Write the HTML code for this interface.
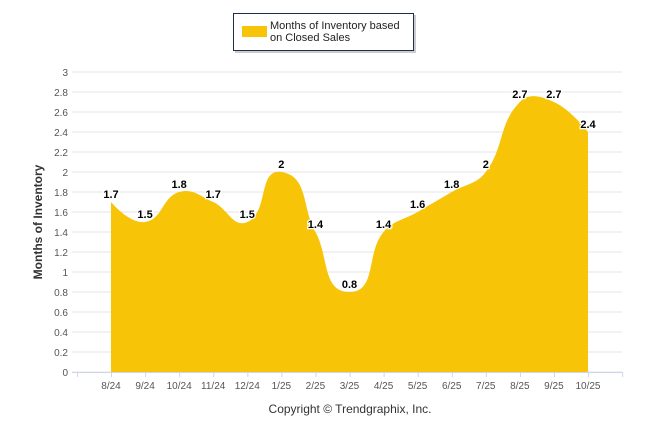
<!DOCTYPE html>
<html><head><meta charset="utf-8"><style>
body{margin:0;background:#fff;}
svg{display:block;font-family:"Liberation Sans",sans-serif;}
</style></head><body>
<svg id="c" width="646" height="434"></svg>
<script>
const categories=["8/24","9/24","10/24","11/24","12/24","1/25","2/25","3/25","4/25","5/25","6/25","7/25","8/25","9/25","10/25"];
const values=[1.7,1.5,1.8,1.7,1.5,2,1.4,0.8,1.4,1.6,1.8,2,2.7,2.7,2.4];
const yTicks=[0,0.2,0.4,0.6,0.8,1,1.2,1.4,1.6,1.8,2,2.2,2.4,2.6,2.8,3];
const svg=document.getElementById('c');
const NS='http://www.w3.org/2000/svg';
const X0=111,DX=34.07,Y0=372,YS=100;
function xs(i){return X0+i*DX;}
function ys(v){return Y0-v*YS;}
function mk(t,a,txt){const e=document.createElementNS(NS,t);for(const k in a)e.setAttribute(k,a[k]);if(txt!=null)e.textContent=txt;svg.appendChild(e);return e;}
// gridlines and y labels
yTicks.forEach(v=>{
 const g=mk('line',{x1:72,x2:622,y1:ys(v),y2:ys(v),stroke:'#e6e6e6','stroke-width':1});
 
 
 const t=mk('text',{x:68,y:ys(v)+4,'text-anchor':'end','font-size':10,fill:'#555'},String(v));
 
 
});
// area path (spline, Highcharts-like smoothing)
const pts=values.map((v,i)=>[xs(i),ys(v)]);
let d='M'+pts[0][0]+','+pts[0][1];
const sm=1.5,den=sm+1;
function ctrl(i){
 const p=pts[i],a=pts[i-1],b=pts[i+1];
 if(!a||!b)return [p,p];
 let lx=(sm*p[0]+a[0])/den,ly=(sm*p[1]+a[1])/den,rx=(sm*p[0]+b[0])/den,ry=(sm*p[1]+b[1])/den;
 const la=Math.atan2(ly-p[1],lx-p[0]),ra=Math.atan2(ry-p[1],rx-p[0]);
 const lenL=Math.hypot(lx-p[0],ly-p[1]),lenR=Math.hypot(rx-p[0],ry-p[1]);
 const corr=(la+ra)/2+ (Math.abs(la-ra)>Math.PI/2?0:Math.PI)*0;
 let ang=(la-ra>0?1:-1)*Math.PI/2+ (la+ra)/2;
 // simpler: tangent along a->b
 const tx=b[0]-a[0],ty=b[1]-a[1],tl=Math.hypot(tx,ty);
 let L=[p[0]-tx/tl*lenL,p[1]-ty/tl*lenL],R=[p[0]+tx/tl*lenR,p[1]+ty/tl*lenR];
 return [L,R];
}
for(let i=1;i<pts.length;i++){
 const c1=ctrl(i-1)[1],c2=ctrl(i)[0];
 d+=' C'+c1[0]+','+c1[1]+' '+c2[0]+','+c2[1]+' '+pts[i][0]+','+pts[i][1];
}
d+=' L'+pts[pts.length-1][0]+','+Y0+' L'+pts[0][0]+','+Y0+' Z';
const area=mk('path',{d:d,fill:'#F7C408'});


// x axis
const ax=mk('line',{x1:72,x2:622,y1:372.5,y2:372.5,stroke:'#ccd6eb','stroke-width':1});


for(let k=0;k<=16;k++){
 const tk=mk('line',{x1:77.5+k*DX,x2:77.5+k*DX,y1:372,y2:377,stroke:'#ccd6eb'});
 
 
}
categories.forEach((c,i)=>{
 const t=mk('text',{x:xs(i),y:389,'text-anchor':'middle','font-size':10,fill:'#555'},c);
 
 
 const l=mk('text',{x:xs(i),y:ys(values[i])-4,'text-anchor':'middle','font-size':11,'font-weight':'bold',fill:'#000',stroke:'#fff','stroke-width':2.5,'paint-order':'stroke'},String(values[i]));
 
 
});
const yt=mk('text',{x:0,y:0,transform:'translate(42,222) rotate(-90)','text-anchor':'middle','font-size':12,'font-weight':'bold',fill:'#333'},'Months of Inventory');


const cp=mk('text',{x:350,y:413,'text-anchor':'middle','font-size':12,fill:'#333'},'Copyright © Trendgraphix, Inc.');


// legend
const sh=mk('rect',{x:235,y:15,width:181,height:38,fill:'#999',opacity:0.5});


const lb=mk('rect',{x:233.5,y:13.5,width:180,height:37,fill:'#fff',stroke:'#1f2d4d','stroke-width':1});


const sw=mk('rect',{x:242,y:26,width:25,height:11,fill:'#F7C408'});


const l1=mk('text',{x:270,y:29,'font-size':11,fill:'#222'},'Months of Inventory based');


const l2=mk('text',{x:270,y:41,'font-size':11,fill:'#222'},'on Closed Sales');


</script>
</body></html>
